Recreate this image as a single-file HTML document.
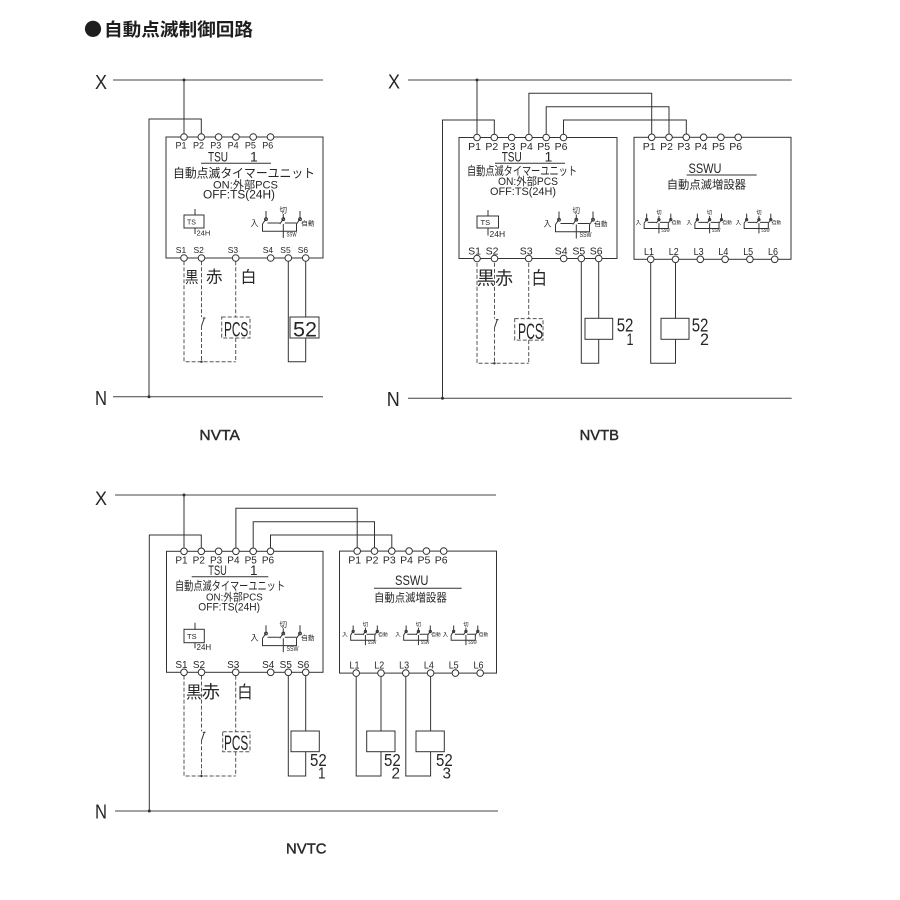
<!DOCTYPE html>
<html><head><meta charset="utf-8">
<style>
html,body{margin:0;padding:0;background:#fff;}
svg{display:block;}
text{font-family:"Liberation Sans","Noto Sans CJK JP",sans-serif;fill:#262626;stroke:none;}
.l{stroke:#333;stroke-width:1;fill:none;}
.g{stroke:#444;stroke-width:1;fill:none;}
.d{stroke:#555;stroke-width:1;fill:none;stroke-dasharray:4 2;}
.t{fill:#fff;stroke:#333;stroke-width:1;}
.ns{vector-effect:non-scaling-stroke;}
.lab{stroke:#333;stroke-width:0.45;}
</style></head><body>
<svg width="900" height="900" viewBox="0 0 900 900" xmlns="http://www.w3.org/2000/svg">
<rect x="0" y="0" width="900" height="900" fill="#fff"/>

<!-- Title -->
<text x="84" y="36" font-size="18" font-weight="bold" style="fill:#1e1e1e;font-family:'Noto Sans CJK JP','WenQuanYi Zen Hei',sans-serif">●</text>
<text x="104" y="36" font-size="18" font-weight="bold" textLength="149" lengthAdjust="spacingAndGlyphs" style="fill:#1e1e1e">自動点滅制御回路</text>

<!-- ================= NVTA ================= -->
<text x="95" y="89" font-size="20" textLength="12" lengthAdjust="spacingAndGlyphs">X</text>
<line class="g" x1="113" y1="80" x2="323" y2="80"/>
<circle cx="184" cy="80" r="1.5" fill="#333"/>
<path class="l" d="M184,80 V133.7"/>
<path class="l" d="M201.3,133.7 V119 H149 V396.7"/>
<line class="g" x1="113" y1="396.7" x2="323" y2="396.7"/>
<circle cx="149" cy="396.7" r="1.5" fill="#333"/>
<text x="95" y="405" font-size="20" textLength="12" lengthAdjust="spacingAndGlyphs">N</text>
<!-- S5/S6 coil -->
<path class="l" d="M288.3,261.3 V361.7 H305.7 V338"/>
<path class="l" d="M305.7,261.3 V317"/>
<rect class="l" x="290" y="317" width="29" height="21" fill="#fff"/>
<text x="293" y="336.3" font-size="21" textLength="24" lengthAdjust="spacingAndGlyphs">52</text>
<text x="219.7" y="440" font-size="15" text-anchor="middle" textLength="40.5" lengthAdjust="spacingAndGlyphs" class="lab">NVTA</text>

<g>
<rect class="l" x="166" y="137" width="157" height="121"/>
<!-- dashed PCS circuit -->
<path class="d" d="M184,261.3 V361.7 H235.7"/>
<path class="d" d="M201.5,261.3 V317"/>
<path class="d" d="M201.5,326 V361.7"/>
<path class="l" d="M201.5,326 L204.5,317.5 M202.8,318 H205.5"/>
<path class="d" d="M235.7,261.3 V317 M235.7,338 V361.7"/>
<rect class="d" x="221.7" y="317" width="28.3" height="21"/>
<circle cx="201.5" cy="361.7" r="1.2" fill="#333"/>
<text x="224" y="336.5" font-size="21" textLength="24.3" lengthAdjust="spacingAndGlyphs">PCS</text>
<!-- terminals -->
<circle class="t" cx="184" cy="137" r="3.3"/><circle class="t" cx="201.3" cy="137" r="3.3"/><circle class="t" cx="218.6" cy="137" r="3.3"/><circle class="t" cx="235.9" cy="137" r="3.3"/><circle class="t" cx="253.2" cy="137" r="3.3"/><circle class="t" cx="270.5" cy="137" r="3.3"/>
<circle class="t" cx="184" cy="258" r="3.3"/><circle class="t" cx="201.5" cy="258" r="3.3"/><circle class="t" cx="235.7" cy="258" r="3.3"/><circle class="t" cx="270.7" cy="258" r="3.3"/><circle class="t" cx="288.3" cy="258" r="3.3"/><circle class="t" cx="305.7" cy="258" r="3.3"/>
<!-- TS -->
<rect class="l" x="184" y="215" width="20" height="13"/>
<path class="l" d="M195,209 V215 M195,228 V234"/>
<text x="187" y="224.5" font-size="7">TS</text>
<text x="196.5" y="235.5" font-size="7.5">24H</text>
<!-- SSW switches -->
<g>
<path class="l" d="M266,211 V217.7 M283.3,214 V217.7 M300,211 V217.7"/>
<circle cx="266" cy="219.2" r="1.4" fill="#fff" stroke="#333"/><circle cx="283.3" cy="219.2" r="1.4" fill="#fff" stroke="#333"/><circle cx="300" cy="219.2" r="1.4" fill="#fff" stroke="#333"/>
<path class="l" d="M262.5,224 L266.8,217.8 M279.8,224 L284.1,217.8 M296.5,224 L300.8,217.8"/>
<path class="l" d="M267.5,223 H279.8 M284.8,223 H296.5 M301.5,223 H302.5"/>
<path class="l" d="M262.5,224 V231.3 H296.5 V224 M283.3,224 V238"/>
<text x="250.5" y="226" font-size="8">入</text>
<text x="279.5" y="212.5" font-size="7.5">切</text>
<text x="301.5" y="225.5" font-size="6.5" textLength="13" lengthAdjust="spacingAndGlyphs">自動</text>
<text x="286.5" y="236.5" font-size="6.5" textLength="10" lengthAdjust="spacingAndGlyphs">SSW</text>
</g>
<!-- texts -->
<g font-size="9" text-anchor="middle">
<text x="181" y="148.5">P1</text><text x="198.5" y="148.5">P2</text><text x="215.8" y="148.5">P3</text><text x="233.1" y="148.5">P4</text><text x="250.4" y="148.5">P5</text><text x="267.7" y="148.5">P6</text>
<text x="181" y="253" font-size="8.5">S1</text><text x="198.7" y="253" font-size="8.5">S2</text><text x="232.9" y="253" font-size="8.5">S3</text><text x="267.9" y="253" font-size="8.5">S4</text><text x="285.5" y="253" font-size="8.5">S5</text><text x="302.9" y="253" font-size="8.5">S6</text>
</g>
<text x="208" y="161.5" font-size="14" textLength="20" lengthAdjust="spacingAndGlyphs">TSU</text>
<text x="250" y="161.5" font-size="14">1</text>
<line class="l" x1="201" y1="163.2" x2="271" y2="163.2"/>
<text x="173" y="177.5" font-size="12.5" textLength="142" lengthAdjust="spacingAndGlyphs">自動点滅タイマーユニット</text>
<text x="213" y="188.3" font-size="11" textLength="65" lengthAdjust="spacingAndGlyphs">ON:外部PCS</text>
<text x="203" y="198.5" font-size="11.5" textLength="72" lengthAdjust="spacingAndGlyphs">OFF:TS(24H)</text>
<text x="185" y="282.5" font-size="15.5" textLength="13.5" lengthAdjust="spacingAndGlyphs">黒</text>
<text x="206" y="282.5" font-size="16.5">赤</text>
<text x="240.5" y="282.5" font-size="16">白</text>
</g>

<!-- ================= NVTB ================= -->
<text x="388" y="88.5" font-size="20" textLength="12" lengthAdjust="spacingAndGlyphs">X</text>
<line class="g" x1="408" y1="80" x2="791.7" y2="80"/>
<circle cx="477" cy="80" r="1.5" fill="#333"/>
<path class="l" d="M477,80 V134.2"/>
<path class="l" d="M494.3,134.2 V120 H442.5 V398.3"/>
<path class="l" d="M528.9,134.2 V93.3 H651.7 V134"/>
<path class="l" d="M546.2,134.2 V106.7 H669 V134"/>
<path class="l" d="M563.5,134.2 V120 H686.3 V134"/>
<line class="g" x1="408" y1="398.3" x2="791.7" y2="398.3"/>
<circle cx="442.5" cy="398.3" r="1.5" fill="#333"/>
<text x="386.7" y="406" font-size="20" textLength="13" lengthAdjust="spacingAndGlyphs">N</text>
<!-- coils -->
<path class="l" d="M581.3,261.8 V363.3 H598.7 V339.3"/>
<path class="l" d="M598.7,261.8 V318.3"/>
<rect class="l" x="585" y="318.3" width="27.7" height="21" fill="#fff"/>
<text x="616.7" y="331.7" font-size="18" textLength="16.7" lengthAdjust="spacingAndGlyphs">52</text>
<text x="626.5" y="345" font-size="17" textLength="7" lengthAdjust="spacingAndGlyphs">1</text>
<path class="l" d="M650.7,262.6 V363.3 H675.5 V339.3"/>
<path class="l" d="M675.5,262.6 V318.3"/>
<rect class="l" x="661" y="318.3" width="28" height="21" fill="#fff"/>
<text x="691.7" y="331.7" font-size="18" textLength="16.7" lengthAdjust="spacingAndGlyphs">52</text>
<text x="700" y="345" font-size="17" textLength="9" lengthAdjust="spacingAndGlyphs">2</text>
<text x="599.3" y="440" font-size="15" text-anchor="middle" textLength="39.3" lengthAdjust="spacingAndGlyphs" class="lab">NVTB</text>

<g transform="translate(293,0.5)">
<rect class="l" x="166" y="137" width="158" height="121"/>
<g transform="translate(0,1.1)">
<path class="d" d="M184,261.3 V361.7 H235.7"/>
<path class="d" d="M201.5,261.3 V317"/>
<path class="d" d="M201.5,326 V361.7"/>
<path class="l" d="M201.5,326 L204.5,317.5 M202.8,318 H205.5"/>
<path class="d" d="M235.7,261.3 V317 M235.7,338.5 V361.7"/>
<rect class="d" x="221.7" y="317" width="28.3" height="21.5"/>
<circle cx="201.5" cy="361.7" r="1.2" fill="#333"/>
<text x="225" y="337.5" font-size="22" textLength="25" lengthAdjust="spacingAndGlyphs">PCS</text>
</g>
<circle class="t" cx="184" cy="137" r="3.3"/><circle class="t" cx="201.3" cy="137" r="3.3"/><circle class="t" cx="218.6" cy="137" r="3.3"/><circle class="t" cx="235.9" cy="137" r="3.3"/><circle class="t" cx="253.2" cy="137" r="3.3"/><circle class="t" cx="270.5" cy="137" r="3.3"/>
<circle class="t" cx="184" cy="258" r="3.3"/><circle class="t" cx="201.5" cy="258" r="3.3"/><circle class="t" cx="235.7" cy="258" r="3.3"/><circle class="t" cx="270.7" cy="258" r="3.3"/><circle class="t" cx="288.3" cy="258" r="3.3"/><circle class="t" cx="305.7" cy="258" r="3.3"/>
<rect class="l" x="184" y="215.5" width="21.5" height="12"/>
<path class="l" d="M195,209.5 V215.5 M195,227.5 V235"/>
<text x="187.5" y="224.5" font-size="7.5">TS</text>
<text x="196.5" y="236.5" font-size="8.5">24H</text>
<g>
<path class="l" d="M266,211 V217.7 M283.3,214 V217.7 M300,211 V217.7"/>
<circle cx="266" cy="219.2" r="1.4" fill="#fff" stroke="#333"/><circle cx="283.3" cy="219.2" r="1.4" fill="#fff" stroke="#333"/><circle cx="300" cy="219.2" r="1.4" fill="#fff" stroke="#333"/>
<path class="l" d="M262.5,224 L266.8,217.8 M279.8,224 L284.1,217.8 M296.5,224 L300.8,217.8"/>
<path class="l" d="M267.5,223 H279.8 M284.8,223 H296.5 M301.5,223 H302.5"/>
<path class="l" d="M262.5,224 V231.3 H296.5 V224 M283.3,224 V238"/>
<text x="250.5" y="226" font-size="8">入</text>
<text x="279.5" y="212.5" font-size="7.5">切</text>
<text x="301.5" y="225.5" font-size="6.5" textLength="13" lengthAdjust="spacingAndGlyphs">自動</text>
<text x="286.5" y="236.5" font-size="7" textLength="12" lengthAdjust="spacingAndGlyphs">SSW</text>
</g>
<g font-size="10.5" text-anchor="middle">
<text x="181.5" y="149.7">P1</text><text x="198.8" y="149.7">P2</text><text x="216.1" y="149.7">P3</text><text x="233.4" y="149.7">P4</text><text x="250.7" y="149.7">P5</text><text x="268" y="149.7">P6</text>
<text x="181.5" y="254">S1</text><text x="199" y="254">S2</text><text x="233.2" y="254">S3</text><text x="268.2" y="254">S4</text><text x="285.8" y="254">S5</text><text x="303.2" y="254">S6</text>
</g>
<text x="208.7" y="161.2" font-size="14" textLength="20" lengthAdjust="spacingAndGlyphs">TSU</text>
<text x="251.5" y="161.2" font-size="14">1</text>
<line class="l" x1="202" y1="162.7" x2="272" y2="162.7"/>
<text x="174" y="174.3" font-size="12" textLength="110" lengthAdjust="spacingAndGlyphs">自動点滅タイマーユニット</text>
<text x="205" y="184.7" font-size="11" textLength="60" lengthAdjust="spacingAndGlyphs">ON:外部PCS</text>
<text x="197" y="194.3" font-size="11" textLength="66" lengthAdjust="spacingAndGlyphs">OFF:TS(24H)</text>
<text x="183.7" y="284" font-size="18.3">黒</text>
<text x="202" y="284" font-size="18">赤</text>
<text x="238.5" y="284" font-size="18" textLength="15.5" lengthAdjust="spacingAndGlyphs">白</text>
</g>

<!-- SSWU (NVTB) -->
<g>
<rect class="l" x="634" y="137.3" width="157" height="122"/>
<circle class="t" cx="651.7" cy="137.3" r="3.3"/><circle class="t" cx="669" cy="137.3" r="3.3"/><circle class="t" cx="686.3" cy="137.3" r="3.3"/><circle class="t" cx="703.6" cy="137.3" r="3.3"/><circle class="t" cx="720.9" cy="137.3" r="3.3"/><circle class="t" cx="738.2" cy="137.3" r="3.3"/>
<circle class="t" cx="650.7" cy="259.3" r="3.3"/><circle class="t" cx="675.5" cy="259.3" r="3.3"/><circle class="t" cx="700.3" cy="259.3" r="3.3"/><circle class="t" cx="725.1" cy="259.3" r="3.3"/><circle class="t" cx="749.9" cy="259.3" r="3.3"/><circle class="t" cx="774.7" cy="259.3" r="3.3"/>
<g font-size="10.5" text-anchor="middle">
<text x="649.2" y="150">P1</text><text x="666.5" y="150">P2</text><text x="683.8" y="150">P3</text><text x="701.1" y="150">P4</text><text x="718.4" y="150">P5</text><text x="735.7" y="150">P6</text>
<text x="649" y="255" textLength="10" lengthAdjust="spacingAndGlyphs">L1</text><text x="673.8" y="255" textLength="10" lengthAdjust="spacingAndGlyphs">L2</text><text x="698.6" y="255" textLength="10" lengthAdjust="spacingAndGlyphs">L3</text><text x="723.4" y="255" textLength="10" lengthAdjust="spacingAndGlyphs">L4</text><text x="748.2" y="255" textLength="10" lengthAdjust="spacingAndGlyphs">L5</text><text x="773" y="255" textLength="10" lengthAdjust="spacingAndGlyphs">L6</text>
</g>
<g>
<g transform="translate(636,210) scale(0.71,0.73) translate(-251,-206)">
<path class="l ns" d="M266,211 V217.7 M283.3,214 V217.7 M300,211 V217.7"/>
<circle class="ns" cx="266" cy="219.2" r="1.6" fill="#fff" stroke="#333"/><circle class="ns" cx="283.3" cy="219.2" r="1.6" fill="#fff" stroke="#333"/><circle class="ns" cx="300" cy="219.2" r="1.6" fill="#fff" stroke="#333"/>
<path class="l ns" d="M262.5,224 L266.8,217.8 M279.8,224 L284.1,217.8 M296.5,224 L300.8,217.8"/>
<path class="l ns" d="M267.5,223 H279.8 M284.8,223 H296.5 M301.5,223 H302.5"/>
<path class="l ns" d="M262.5,224 V231.3 H296.5 V224 M283.3,224 V238"/>
<text x="250.5" y="226" font-size="8">入</text><text x="279.5" y="212.5" font-size="7.5">切</text>
<text x="301.5" y="225.5" font-size="6.5" textLength="13" lengthAdjust="spacingAndGlyphs">自動</text>
<text x="286.5" y="236.5" font-size="7" textLength="12" lengthAdjust="spacingAndGlyphs">SSW</text>
</g>
<g transform="translate(686.7,210) scale(0.71,0.73) translate(-251,-206)">
<path class="l ns" d="M266,211 V217.7 M283.3,214 V217.7 M300,211 V217.7"/>
<circle class="ns" cx="266" cy="219.2" r="1.6" fill="#fff" stroke="#333"/><circle class="ns" cx="283.3" cy="219.2" r="1.6" fill="#fff" stroke="#333"/><circle class="ns" cx="300" cy="219.2" r="1.6" fill="#fff" stroke="#333"/>
<path class="l ns" d="M262.5,224 L266.8,217.8 M279.8,224 L284.1,217.8 M296.5,224 L300.8,217.8"/>
<path class="l ns" d="M267.5,223 H279.8 M284.8,223 H296.5 M301.5,223 H302.5"/>
<path class="l ns" d="M262.5,224 V231.3 H296.5 V224 M283.3,224 V238"/>
<text x="250.5" y="226" font-size="8">入</text><text x="279.5" y="212.5" font-size="7.5">切</text>
<text x="301.5" y="225.5" font-size="6.5" textLength="13" lengthAdjust="spacingAndGlyphs">自動</text>
<text x="286.5" y="236.5" font-size="7" textLength="12" lengthAdjust="spacingAndGlyphs">SSW</text>
</g>
<g transform="translate(736,210) scale(0.71,0.73) translate(-251,-206)">
<path class="l ns" d="M266,211 V217.7 M283.3,214 V217.7 M300,211 V217.7"/>
<circle class="ns" cx="266" cy="219.2" r="1.6" fill="#fff" stroke="#333"/><circle class="ns" cx="283.3" cy="219.2" r="1.6" fill="#fff" stroke="#333"/><circle class="ns" cx="300" cy="219.2" r="1.6" fill="#fff" stroke="#333"/>
<path class="l ns" d="M262.5,224 L266.8,217.8 M279.8,224 L284.1,217.8 M296.5,224 L300.8,217.8"/>
<path class="l ns" d="M267.5,223 H279.8 M284.8,223 H296.5 M301.5,223 H302.5"/>
<path class="l ns" d="M262.5,224 V231.3 H296.5 V224 M283.3,224 V238"/>
<text x="250.5" y="226" font-size="8">入</text><text x="279.5" y="212.5" font-size="7.5">切</text>
<text x="301.5" y="225.5" font-size="6.5" textLength="13" lengthAdjust="spacingAndGlyphs">自動</text>
<text x="286.5" y="236.5" font-size="7" textLength="12" lengthAdjust="spacingAndGlyphs">SSW</text>
</g>
</g>
</g>
<text x="705" y="173" font-size="14" text-anchor="middle" textLength="33" lengthAdjust="spacingAndGlyphs">SSWU</text>
<line class="l" x1="686.7" y1="175" x2="756.7" y2="175"/>
<text x="666.7" y="188.3" font-size="11.5" textLength="79.3" lengthAdjust="spacingAndGlyphs">自動点滅増設器</text>

<!-- ================= NVTC ================= -->
<text x="95" y="505" font-size="19" textLength="12" lengthAdjust="spacingAndGlyphs">X</text>
<line class="g" x1="115" y1="495" x2="496" y2="495"/>
<circle cx="184" cy="495" r="1.5" fill="#333"/>
<path class="l" d="M184,495 V548"/>
<path class="l" d="M201.3,548 V535 H149.3 V811"/>
<path class="l" d="M235.9,548 V508.3 H357.2 V547.8"/>
<path class="l" d="M253.2,548 V521.7 H374.5 V547.8"/>
<path class="l" d="M270.5,548 V535 H391.8 V547.8"/>
<line class="g" x1="115" y1="811" x2="498" y2="811"/>
<circle cx="149.3" cy="811" r="1.5" fill="#333"/>
<text x="95" y="818.5" font-size="20" textLength="12" lengthAdjust="spacingAndGlyphs">N</text>
<!-- coils -->
<path class="l" d="M288.3,675.6 V776 H305.7 V751.7"/>
<path class="l" d="M305.7,675.6 V731"/>
<rect class="l" x="291" y="731" width="28.3" height="20.7" fill="#fff"/>
<text x="310" y="766" font-size="17.5" textLength="16.7" lengthAdjust="spacingAndGlyphs">52</text>
<text x="318" y="778.7" font-size="16" textLength="7.5" lengthAdjust="spacingAndGlyphs">1</text>
<path class="l" d="M356.2,676.4 V776 H381 V751.7"/>
<path class="l" d="M381,676.4 V731"/>
<rect class="l" x="366.7" y="731" width="28.3" height="20.7" fill="#fff"/>
<text x="384" y="766" font-size="17.5" textLength="16.7" lengthAdjust="spacingAndGlyphs">52</text>
<text x="391.5" y="778.7" font-size="16" textLength="8.5" lengthAdjust="spacingAndGlyphs">2</text>
<path class="l" d="M405.8,676.4 V776 H430.6 V751.7"/>
<path class="l" d="M430.6,676.4 V731"/>
<rect class="l" x="416" y="731" width="28.3" height="20.7" fill="#fff"/>
<text x="436" y="766" font-size="17.5" textLength="16.7" lengthAdjust="spacingAndGlyphs">52</text>
<text x="442.5" y="778.7" font-size="16" textLength="8.5" lengthAdjust="spacingAndGlyphs">3</text>
<text x="306.3" y="853.3" font-size="15" text-anchor="middle" textLength="40.5" lengthAdjust="spacingAndGlyphs" class="lab">NVTC</text>

<g transform="translate(0,414.3)">
<rect class="l" x="166.5" y="137" width="156.5" height="121"/>
<path class="d" d="M184,261.3 V361.7 H235.7"/>
<path class="d" d="M201.5,261.3 V317"/>
<path class="d" d="M201.5,326 V361.7"/>
<path class="l" d="M201.5,326 L204.5,317.5 M202.8,318 H205.5"/>
<path class="d" d="M235.7,261.3 V317.4 M235.7,337.4 V361.7"/>
<rect class="d" x="222.7" y="317.4" width="27.3" height="20"/>
<circle cx="201.5" cy="361.7" r="1.2" fill="#333"/>
<text x="224" y="335.7" font-size="21" textLength="24.3" lengthAdjust="spacingAndGlyphs">PCS</text>
<circle class="t" cx="184" cy="137" r="3.3"/><circle class="t" cx="201.3" cy="137" r="3.3"/><circle class="t" cx="218.6" cy="137" r="3.3"/><circle class="t" cx="235.9" cy="137" r="3.3"/><circle class="t" cx="253.2" cy="137" r="3.3"/><circle class="t" cx="270.5" cy="137" r="3.3"/>
<circle class="t" cx="184" cy="258" r="3.3"/><circle class="t" cx="201.5" cy="258" r="3.3"/><circle class="t" cx="235.7" cy="258" r="3.3"/><circle class="t" cx="270.7" cy="258" r="3.3"/><circle class="t" cx="288.3" cy="258" r="3.3"/><circle class="t" cx="305.7" cy="258" r="3.3"/>
<rect class="l" x="184" y="215" width="20.3" height="13.4"/>
<path class="l" d="M195,208.5 V215 M195,228.4 V234"/>
<text x="187" y="224.5" font-size="7.5">TS</text>
<text x="196.5" y="235.5" font-size="8">24H</text>
<g>
<path class="l" d="M266,211 V217.7 M283.3,214 V217.7 M300,211 V217.7"/>
<circle cx="266" cy="219.2" r="1.4" fill="#fff" stroke="#333"/><circle cx="283.3" cy="219.2" r="1.4" fill="#fff" stroke="#333"/><circle cx="300" cy="219.2" r="1.4" fill="#fff" stroke="#333"/>
<path class="l" d="M262.5,224 L266.8,217.8 M279.8,224 L284.1,217.8 M296.5,224 L300.8,217.8"/>
<path class="l" d="M267.5,223 H279.8 M284.8,223 H296.5 M301.5,223 H302.5"/>
<path class="l" d="M262.5,224 V231.3 H296.5 V224 M283.3,224 V238"/>
<text x="250.5" y="226" font-size="8">入</text>
<text x="279.5" y="212.5" font-size="7.5">切</text>
<text x="301.5" y="225.5" font-size="6.5" textLength="13" lengthAdjust="spacingAndGlyphs">自動</text>
<text x="286.5" y="236.5" font-size="7" textLength="12" lengthAdjust="spacingAndGlyphs">SSW</text>
</g>
<g font-size="10" text-anchor="middle">
<text x="181.5" y="149">P1</text><text x="198.8" y="149">P2</text><text x="216.1" y="149">P3</text><text x="233.4" y="149">P4</text><text x="250.7" y="149">P5</text><text x="268" y="149">P6</text>
<text x="181.5" y="253.7">S1</text><text x="199" y="253.7">S2</text><text x="233.2" y="253.7">S3</text><text x="268.2" y="253.7">S4</text><text x="285.8" y="253.7">S5</text><text x="303.2" y="253.7">S6</text>
</g>
<text x="208.3" y="160.7" font-size="13.5" textLength="18.5" lengthAdjust="spacingAndGlyphs">TSU</text>
<text x="250" y="160.7" font-size="13.5">1</text>
<line class="l" x1="191.7" y1="162.4" x2="268.3" y2="162.4"/>
<text x="175" y="175.7" font-size="12" textLength="110" lengthAdjust="spacingAndGlyphs">自動点滅タイマーユニット</text>
<text x="206" y="186.4" font-size="10.5" textLength="56.7" lengthAdjust="spacingAndGlyphs">ON:外部PCS</text>
<text x="198.3" y="196" font-size="11" textLength="61.7" lengthAdjust="spacingAndGlyphs">OFF:TS(24H)</text>
<text x="186" y="283.5" font-size="16.5" textLength="15.7" lengthAdjust="spacingAndGlyphs">黒</text>
<text x="201.7" y="283.5" font-size="17.5" textLength="18.3" lengthAdjust="spacingAndGlyphs">赤</text>
<text x="237.3" y="283.5" font-size="17" textLength="15.4" lengthAdjust="spacingAndGlyphs">白</text>
</g>

<!-- SSWU (NVTC) -->
<g transform="translate(-294.5,413.8)">
<rect class="l" x="634" y="137.3" width="157" height="122"/>
<circle class="t" cx="651.7" cy="137.3" r="3.3"/><circle class="t" cx="669" cy="137.3" r="3.3"/><circle class="t" cx="686.3" cy="137.3" r="3.3"/><circle class="t" cx="703.6" cy="137.3" r="3.3"/><circle class="t" cx="720.9" cy="137.3" r="3.3"/><circle class="t" cx="738.2" cy="137.3" r="3.3"/>
<circle class="t" cx="650.7" cy="259.3" r="3.3"/><circle class="t" cx="675.5" cy="259.3" r="3.3"/><circle class="t" cx="700.3" cy="259.3" r="3.3"/><circle class="t" cx="725.1" cy="259.3" r="3.3"/><circle class="t" cx="749.9" cy="259.3" r="3.3"/><circle class="t" cx="774.7" cy="259.3" r="3.3"/>
<g font-size="10.5" text-anchor="middle">
<text x="649.2" y="149.8">P1</text><text x="666.5" y="149.8">P2</text><text x="683.8" y="149.8">P3</text><text x="701.1" y="149.8">P4</text><text x="718.4" y="149.8">P5</text><text x="735.7" y="149.8">P6</text>
<text x="649" y="254.5" textLength="10" lengthAdjust="spacingAndGlyphs">L1</text><text x="673.8" y="254.5" textLength="10" lengthAdjust="spacingAndGlyphs">L2</text><text x="698.6" y="254.5" textLength="10" lengthAdjust="spacingAndGlyphs">L3</text><text x="723.4" y="254.5" textLength="10" lengthAdjust="spacingAndGlyphs">L4</text><text x="748.2" y="254.5" textLength="10" lengthAdjust="spacingAndGlyphs">L5</text><text x="773" y="254.5" textLength="10" lengthAdjust="spacingAndGlyphs">L6</text>
</g>
<g transform="translate(637,208) scale(0.71,0.73) translate(-251,-206)">
<path class="l ns" d="M266,211 V217.7 M283.3,214 V217.7 M300,211 V217.7"/>
<circle class="ns" cx="266" cy="219.2" r="1.6" fill="#fff" stroke="#333"/><circle class="ns" cx="283.3" cy="219.2" r="1.6" fill="#fff" stroke="#333"/><circle class="ns" cx="300" cy="219.2" r="1.6" fill="#fff" stroke="#333"/>
<path class="l ns" d="M262.5,224 L266.8,217.8 M279.8,224 L284.1,217.8 M296.5,224 L300.8,217.8"/>
<path class="l ns" d="M267.5,223 H279.8 M284.8,223 H296.5 M301.5,223 H302.5"/>
<path class="l ns" d="M262.5,224 V231.3 H296.5 V224 M283.3,224 V238"/>
<text x="250.5" y="226" font-size="8">入</text><text x="279.5" y="212.5" font-size="7.5">切</text>
<text x="301.5" y="225.5" font-size="6.5" textLength="13" lengthAdjust="spacingAndGlyphs">自動</text>
<text x="286.5" y="236.5" font-size="7" textLength="12" lengthAdjust="spacingAndGlyphs">SSW</text>
</g>
<g transform="translate(690,208) scale(0.71,0.73) translate(-251,-206)">
<path class="l ns" d="M266,211 V217.7 M283.3,214 V217.7 M300,211 V217.7"/>
<circle class="ns" cx="266" cy="219.2" r="1.6" fill="#fff" stroke="#333"/><circle class="ns" cx="283.3" cy="219.2" r="1.6" fill="#fff" stroke="#333"/><circle class="ns" cx="300" cy="219.2" r="1.6" fill="#fff" stroke="#333"/>
<path class="l ns" d="M262.5,224 L266.8,217.8 M279.8,224 L284.1,217.8 M296.5,224 L300.8,217.8"/>
<path class="l ns" d="M267.5,223 H279.8 M284.8,223 H296.5 M301.5,223 H302.5"/>
<path class="l ns" d="M262.5,224 V231.3 H296.5 V224 M283.3,224 V238"/>
<text x="250.5" y="226" font-size="8">入</text><text x="279.5" y="212.5" font-size="7.5">切</text>
<text x="301.5" y="225.5" font-size="6.5" textLength="13" lengthAdjust="spacingAndGlyphs">自動</text>
<text x="286.5" y="236.5" font-size="7" textLength="12" lengthAdjust="spacingAndGlyphs">SSW</text>
</g>
<g transform="translate(737.5,208) scale(0.71,0.73) translate(-251,-206)">
<path class="l ns" d="M266,211 V217.7 M283.3,214 V217.7 M300,211 V217.7"/>
<circle class="ns" cx="266" cy="219.2" r="1.6" fill="#fff" stroke="#333"/><circle class="ns" cx="283.3" cy="219.2" r="1.6" fill="#fff" stroke="#333"/><circle class="ns" cx="300" cy="219.2" r="1.6" fill="#fff" stroke="#333"/>
<path class="l ns" d="M262.5,224 L266.8,217.8 M279.8,224 L284.1,217.8 M296.5,224 L300.8,217.8"/>
<path class="l ns" d="M267.5,223 H279.8 M284.8,223 H296.5 M301.5,223 H302.5"/>
<path class="l ns" d="M262.5,224 V231.3 H296.5 V224 M283.3,224 V238"/>
<text x="250.5" y="226" font-size="8">入</text><text x="279.5" y="212.5" font-size="7.5">切</text>
<text x="301.5" y="225.5" font-size="6.5" textLength="13" lengthAdjust="spacingAndGlyphs">自動</text>
<text x="286.5" y="236.5" font-size="7" textLength="12" lengthAdjust="spacingAndGlyphs">SSW</text>
</g>
</g>
<text x="411.7" y="585" font-size="14" text-anchor="middle" textLength="33.3" lengthAdjust="spacingAndGlyphs">SSWU</text>
<line class="l" x1="374" y1="588.3" x2="461.7" y2="588.3"/>
<text x="374" y="601.3" font-size="11.5" textLength="72.7" lengthAdjust="spacingAndGlyphs">自動点滅増設器</text>

</svg>
</body></html>
